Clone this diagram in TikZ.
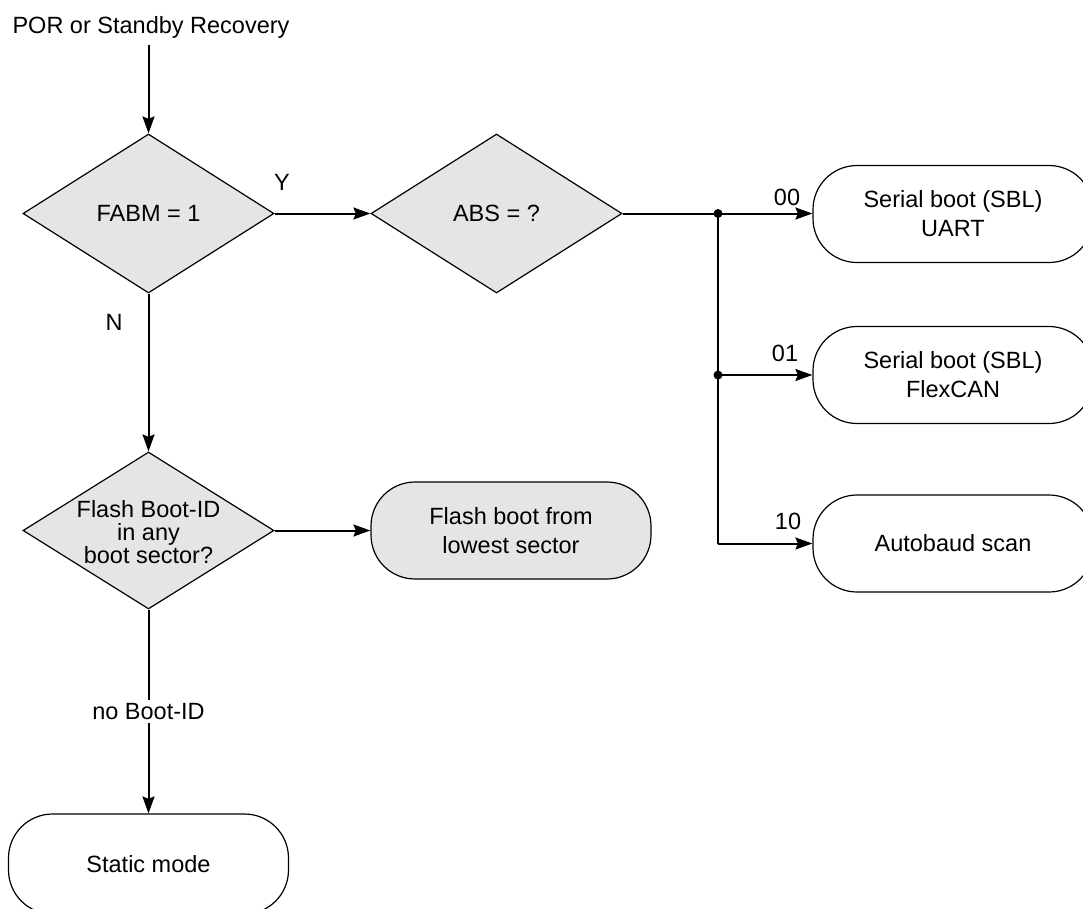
\documentclass[tikz,border=0pt]{standalone}
\usepackage{fontspec}
\setmainfont{Liberation Sans}
\usetikzlibrary{shapes.geometric,arrows.meta}
\tikzset{
  base/.style={font=\fontsize{23.5}{29}\selectfont},
  dia/.style={draw=black, line width=1.2pt, fill=black!10, shape=diamond, minimum width=251pt, minimum height=159pt, inner sep=0pt},
  term/.style={base, draw=black, line width=1.2pt, rectangle, rounded corners=44pt, minimum width=280pt, minimum height=97pt, align=center},
  conn/.style={line width=2pt},
  arr/.style={conn, -{Stealth[length=17pt, width=12pt, inset=2.5pt]}},
  lbl/.style={base, inner sep=0pt},
  dot/.style={circle, fill=black, inner sep=0pt, minimum size=9pt}
}
\begin{document}
\begin{tikzpicture}[x=1pt, y=-1pt]
  \clip (0,0) rectangle (1083,908);
  \fill[white] (0,0) rectangle (1083,908);
  % start text
  \node[lbl, anchor=base, inner sep=0pt] (por) at (151,33.5) {POR or Standby Recovery};
  \coordinate (pors) at (148.5,45);
  % decisions
  \node[dia] (d1) at (148.5,213.5) {};
  \node[lbl] (d1t) at (d1) {FABM = 1};
  \node[dia] (d2) at (496.5,213.5) {};
  \node[lbl] (d2t) at (d2) {ABS = ?};
  \node[dia, minimum height=157pt] (d3) at (148.5,530.5) {};
  \node[lbl, align=center, font=\fontsize{23.5}{23}\selectfont] (d3t) at (148.5,532) {Flash Boot-ID\\in any\\boot sector?};
  % terminals
  \node[term] (t1) at (953,214) {Serial boot (SBL)\\UART};
  \node[term] (t2) at (953,375) {Serial boot (SBL)\\FlexCAN};
  \node[term] (t3) at (953,543.5) {Autobaud scan};
  \node[term, fill=black!10] (t4) at (511,530.5) {Flash boot from\\lowest sector};
  \node[term, minimum height=100pt] (t5) at (148.5,864) {Static mode};
  % junctions
  \node[dot] (j1) at (718,213.5) {};
  \node[dot] (j2) at (718,375) {};
  \coordinate (j3) at (718,543.5);
  % connectors
  \draw[arr] (pors) -- (d1.north);
  \draw[arr] (d1.east) -- (d2.west);
  \draw[arr] (d2.east) -- (j1.center) -- (t1.west |- j1.center);
  \draw[conn] (j1.center) -- (j3);
  \draw[arr] (j2.center) -- (t2.west);
  \draw[arr] (j3) -- (t3.west);
  \draw[arr] (d1.south) -- (d3.north);
  \draw[arr] (d3.east) -- (t4.west);
  \draw[arr] (d3.south) -- node[base, fill=white, inner sep=3pt, pos=0.5] (nb) {no Boot-ID} (t5.north);
  % labels
  \node[lbl] (ly) at (282,182) {Y};
  \node[lbl] (ln) at (114,322) {N};
  \node[lbl] (l00) at (787,197) {00};
  \node[lbl] (l01) at (785,353) {01};
  \node[lbl] (l10) at (788,521) {10};
\end{tikzpicture}
\end{document}
